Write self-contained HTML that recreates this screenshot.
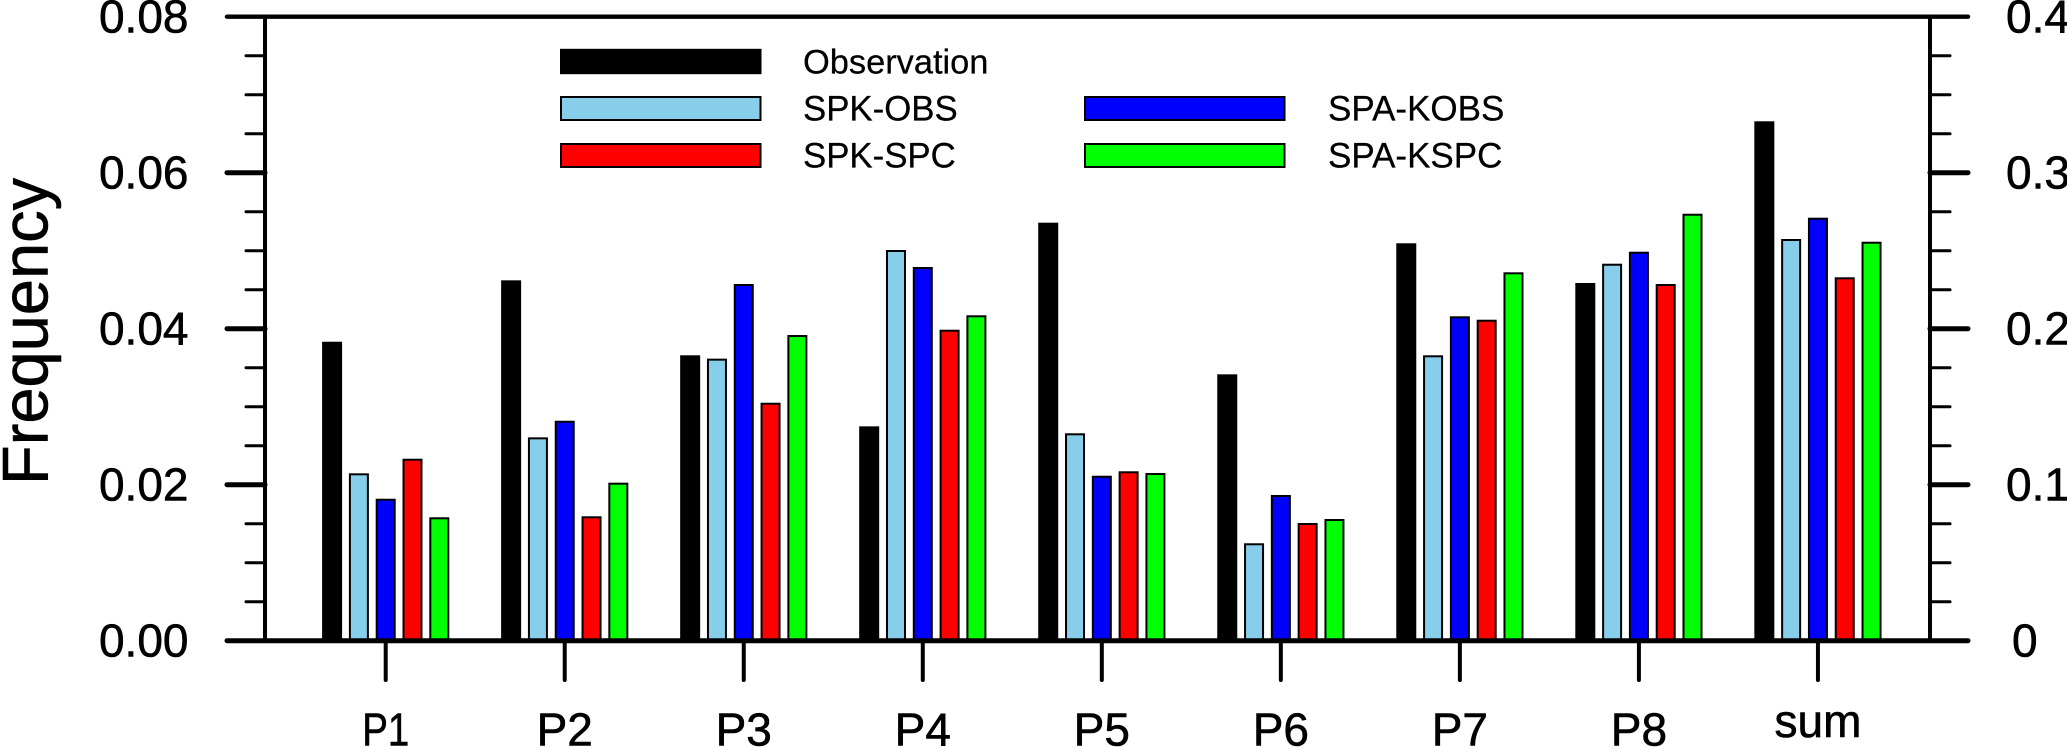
<!DOCTYPE html>
<html lang="en">
<head>
<meta charset="utf-8">
<title>Frequency bar chart</title>
<style>
  html, body { margin: 0; padding: 0; background: #fff; }
  svg { display: block; }
  text { font-family: "Liberation Sans", Arial, sans-serif; fill: #000; stroke: #000; stroke-width: 0.6px; }
  .legend-text { stroke-width: 0.25px; }
</style>
</head>
<body>
<svg id="chart" width="2067" height="747" viewBox="0 0 2067 747" xmlns="http://www.w3.org/2000/svg">
  <rect x="0" y="0" width="2067" height="747" fill="#ffffff"/>
  <g id="bars"></g>
  <g id="axes"></g>
  <g id="labels"></g>
  <text transform="translate(47.5,485) rotate(-90)" font-size="65">Frequency</text>
  <g>
    <g>
      <rect x="561" y="49.8" width="199.5" height="23.4" fill="#000000" stroke="#000" stroke-width="2"/>
      <text class="legend-text" x="803" y="73.5" font-size="34.4">Observation</text>
    </g>
    <g>
      <rect x="561" y="97" width="199.5" height="23" fill="#87ceeb" stroke="#000" stroke-width="2"/>
      <text class="legend-text" x="803" y="120.5" font-size="34.8">SPK-OBS</text>
    </g>
    <g>
      <rect x="561" y="144" width="199.5" height="23" fill="#ff0000" stroke="#000" stroke-width="2"/>
      <text class="legend-text" x="803" y="167.5" font-size="34.8">SPK-SPC</text>
    </g>
    <g>
      <rect x="1085" y="97" width="199.5" height="23" fill="#0000ff" stroke="#000" stroke-width="2"/>
      <text class="legend-text" x="1328" y="120.5" font-size="35">SPA-KOBS</text>
    </g>
    <g>
      <rect x="1085" y="144" width="199.5" height="23" fill="#00ff00" stroke="#000" stroke-width="2"/>
      <text class="legend-text" x="1328" y="167.5" font-size="35">SPA-KSPC</text>
    </g>
  </g>
</svg>
<script>
const categories = ['P1', 'P2', 'P3', 'P4', 'P5', 'P6', 'P7', 'P8', 'sum'];
const observation = [0.03833, 0.0462, 0.03659, 0.02748, 0.05359, 0.03415, 0.05095, 0.04586, 0.06659];
const spkObs = [0.02146, 0.02607, 0.03616, 0.05009, 0.02659, 0.01249, 0.03659, 0.04833, 0.0515];
const spaKobs = [0.0182, 0.0282, 0.04573, 0.04791, 0.02115, 0.01868, 0.04159, 0.04987, 0.05423];
const spkSpc = [0.02333, 0.01595, 0.03051, 0.03987, 0.02172, 0.01509, 0.04115, 0.04573, 0.04659];
const spaKspc = [0.01582, 0.02026, 0.03919, 0.04172, 0.0215, 0.0156, 0.04723, 0.05474, 0.05115];
const seriesNames = ['observation', 'spk-obs', 'spa-kobs', 'spk-spc', 'spa-kspc'];
const seriesValues = [observation, spkObs, spaKobs, spkSpc, spaKspc];
const seriesColors = ['#000000', '#87ceeb', '#0000ff', '#ff0000', '#00ff00'];
const leftTickValues = [0, 0.02, 0.04, 0.06, 0.08];
const leftTickLabels = ['0.00', '0.02', '0.04', '0.06', '0.08'];
const rightTickValues = [0, 0.1, 0.2, 0.3, 0.4];
const rightTickLabels = ['0', '0.1', '0.2', '0.3', '0.4'];
const minorTickValues = [0.005, 0.01, 0.015, 0.025, 0.03, 0.035, 0.045, 0.05, 0.055, 0.065, 0.07, 0.075];

const NS = 'http://www.w3.org/2000/svg';
const plot = { left: 265, right: 1930, top: 16.7, bottom: 640.7 };
const yScale = v => plot.bottom - (v / 0.08) * (plot.bottom - plot.top);
const yRight = v => plot.bottom - (v / 0.4) * (plot.bottom - plot.top);
const xScale = i => 385.7 + i * 179.03;
const barOffset = s => (s - 2) * 26.8;
const BAR_W = 18;
const BAR_STROKE = 2;

const barsG = document.getElementById('bars');
const axesG = document.getElementById('axes');
const labelsG = document.getElementById('labels');

function makeLine(x1, y1, x2, y2, w) {
  const l = document.createElementNS(NS, 'line');
  l.setAttribute('x1', x1);
  l.setAttribute('y1', y1);
  l.setAttribute('x2', x2);
  l.setAttribute('y2', y2);
  l.setAttribute('stroke', '#000');
  l.setAttribute('stroke-width', w);
  l.setAttribute('stroke-linecap', 'round');
  axesG.appendChild(l);
  return l;
}
function makeText(x, y, str, anchor) {
  const t = document.createElementNS(NS, 'text');
  t.setAttribute('x', x);
  t.setAttribute('y', y);
  t.setAttribute('font-size', 46);
  t.setAttribute('text-anchor', anchor);
  t.textContent = str;
  labelsG.appendChild(t);
  return t;
}

seriesValues.forEach((vals, s) => {
  vals.forEach((v, i) => {
    const r = document.createElementNS(NS, 'rect');
    const top = yScale(v) + BAR_STROKE / 2;
    r.setAttribute('x', xScale(i) + barOffset(s) - BAR_W / 2);
    r.setAttribute('y', top);
    r.setAttribute('width', BAR_W);
    r.setAttribute('height', plot.bottom - top);
    r.setAttribute('fill', seriesColors[s]);
    r.setAttribute('stroke', '#000');
    r.setAttribute('stroke-width', BAR_STROKE);
    
    
    barsG.appendChild(r);
  });
});

const leftAxis = makeLine(plot.left, plot.top, plot.left, plot.bottom, 4);


const rightAxis = makeLine(plot.right, plot.top, plot.right, plot.bottom, 4);



minorTickValues.forEach(v => {
  const a = makeLine(246, yScale(v), plot.left, yScale(v), 3);
  
  
  const b = makeLine(plot.right, yScale(v), 1950, yScale(v), 3);
  
  
});

leftTickValues.forEach((v, i) => {
  const isFrame = i === 0 || i === leftTickValues.length - 1;
  if (isFrame) {
    const f = makeLine(227, yScale(v), 1968, yScale(v), i === 0 ? 5 : 4.4);
    
    
  } else {
    const a = makeLine(227, yScale(v), plot.left, yScale(v), 5);
    
    
  }
  const t = makeText(188.5, yScale(v) + 16, leftTickLabels[i], 'end');
  
  
});

rightTickValues.forEach((v, i) => {
  if (i > 0 && i < rightTickValues.length - 1) {
    const a = makeLine(plot.right, yRight(v), 1968, yRight(v), 5);
    
    
  }
  const t = makeText(i === 0 ? 2012 : 2006, yRight(v) + 16, rightTickLabels[i], 'start');
  
  
});

categories.forEach((c, i) => {
  const tick = makeLine(xScale(i), plot.bottom, xScale(i), 680, 4);
  
  
  const t = makeText(xScale(i), c === 'sum' ? 737 : 745.5, c, 'middle');
  if (c === 'P1') {
    t.setAttribute('textLength', 47);
    t.setAttribute('lengthAdjust', 'spacingAndGlyphs');
  }
  
  
});
</script>
</body>
</html>
